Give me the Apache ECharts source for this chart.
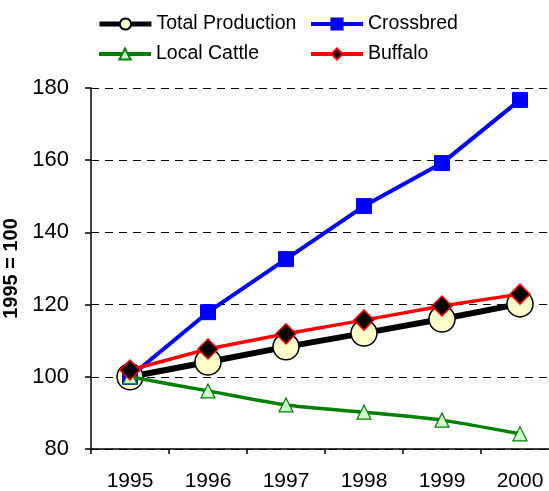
<!doctype html>
<html>
<head>
    <meta charset="UTF-8">
    <title>Milk production index</title>
    <script src="https://cdn.jsdelivr.net/npm/echarts@6/dist/echarts.min.js"></script>
    <style>
        html, body { margin: 0; padding: 0; background: #fff; overflow: hidden; }
    </style>
</head>
<body>
<div id="main" style="width: 549px;height:491px;"></div>
<script type="text/javascript">
    // years and index values (1995 = 100)
    var years = ['1995', '1996', '1997', '1998', '1999', '2000'];
    var totalProduction = [100, 104.1, 108.3, 112.1, 116.0, 120.2];
    var crossbred = [100, 117.9, 132.6, 147.3, 159.2, 176.7];
    var localCattle = [100, 96.1, 92.2, 90.2, 88.0, 84.2];
    var buffalo = [101.9, 107.7, 111.9, 115.7, 119.6, 122.9];

    var myChart = echarts.init(document.getElementById('main'));
    var fontFam = 'Liberation Sans, Arial, sans-serif';

    function legendAt(name, left, top, lineW) {
        return {
            data: [name],
            left: left,
            top: top,
            itemWidth: 52,
            itemHeight: 14,
            itemGap: 0,
            padding: 0,
            selectedMode: false,
            lineStyle: {width: lineW},
            textStyle: {color: '#000', fontSize: 19.5, fontFamily: fontFam}
        };
    }

    var option = {
        backgroundColor: '#fff',
        animation: false,
        legend: [
            legendAt('Total Production', 97, 14, 5),
            legendAt('Crossbred', 309, 14, 4),
            legendAt('Local Cattle', 97, 44, 4),
            legendAt('Buffalo', 309, 44, 4)
        ],
        grid: {
            left: 91,
            width: 468,
            top: 88,
            bottom: 42,
            outerBoundsMode: 'none',
            containLabel: false
        },
        xAxis: {
            type: 'category',
            data: years,
            boundaryGap: true,
            axisLine: {lineStyle: {color: '#000', width: 1.5}},
            axisTick: {show: true, length: 5, inside: false, lineStyle: {color: '#000', width: 1.5}},
            axisLabel: {color: '#000', fontSize: 21, fontFamily: fontFam, margin: 22}
        },
        yAxis: {
            type: 'value',
            min: 80,
            max: 180,
            interval: 20,
            name: '1995 = 100',
            nameLocation: 'middle',
            nameGap: 60,
            nameTextStyle: {color: '#000', fontSize: 20, fontWeight: 'bold', fontFamily: fontFam},
            axisLine: {show: true, lineStyle: {color: '#000', width: 1.5}},
            axisTick: {show: true, length: 6, lineStyle: {color: '#000', width: 1.5}},
            axisLabel: {color: '#000', fontSize: 22, fontFamily: fontFam, margin: 22},
            splitLine: {show: true, lineStyle: {color: '#000', type: [8, 6], width: 1}}
        },
        series: [
            {
                name: 'Total Production',
                type: 'line',
                data: totalProduction,
                symbol: 'circle',
                symbolSize: 26,
                lineStyle: {color: '#000', width: 6},
                itemStyle: {color: '#ffffcc', borderColor: '#000', borderWidth: 1.5},
                z: 2
            },
            {
                name: 'Crossbred',
                type: 'line',
                data: crossbred,
                symbol: 'rect',
                symbolSize: 15,
                lineStyle: {color: '#0000ff', width: 4},
                itemStyle: {color: '#0000ff', borderColor: '#0000ff', borderWidth: 1},
                z: 3
            },
            {
                name: 'Local Cattle',
                type: 'line',
                data: localCattle,
                smooth: 0.2,
                symbol: 'triangle',
                symbolSize: 14,
                lineStyle: {color: '#008000', width: 3.5},
                itemStyle: {color: '#ccffcc', borderColor: '#008000', borderWidth: 1.2},
                z: 4
            },
            {
                name: 'Buffalo',
                type: 'line',
                data: buffalo,
                symbol: 'diamond',
                symbolSize: 20,
                lineStyle: {color: '#ff0000', width: 3.5},
                itemStyle: {color: '#000', borderColor: '#ff0000', borderWidth: 1.5},
                z: 5
            }
        ]
    };
    myChart.setOption(option);
</script>
</body>
</html>
